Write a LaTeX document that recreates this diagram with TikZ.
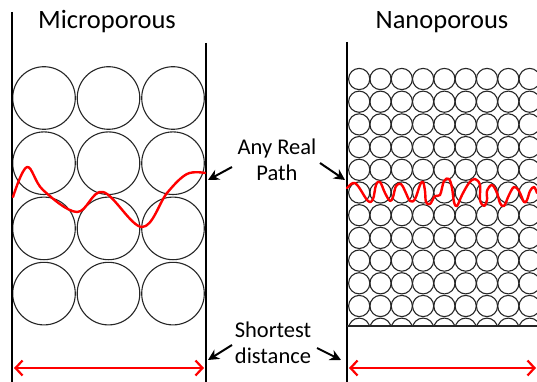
\documentclass[tikz,border=0pt]{standalone}
\usepackage{fontspec}
\setmainfont{Carlito}
\usetikzlibrary{arrows.meta}

\begin{document}
\begin{tikzpicture}[
    x=1pt, y=-1pt,
    % Style for the walls of each slab
    wallStyle/.style={
        draw=black,
        line width=1.4pt
    },
    % Style for the packed grains
    grainStyle/.style={
        draw=black!85,
        line width=1.1pt
    },
    % Style for the titles above the slabs
    titleLabel/.style={
        font=\fontsize{26.5}{30}\selectfont,
        anchor=base
    },
    % Style for the labels between the slabs
    midLabel/.style={
        font=\fontsize{22.5}{26.5}\selectfont,
        align=center
    },
    % Style for the black pointers
    ptrStyle/.style={
        draw=black,
        line width=2pt,
        -{Stealth[length=11pt,width=11pt]}
    },
    % Style for the red paths and distances
    pathStyle/.style={
        draw=red,
        line width=2.4pt,
        line cap=round,
        line join=round
    },
    distStyle/.style={
        draw=red,
        line width=2.2pt,
        {Straight Barb[length=7pt,width=15pt]}-{Straight Barb[length=7pt,width=15pt]}
    }
]

    \useasboundingbox (0,0) rectangle (537,382);

    % --- COORDINATES ---
    \def\bigR{31.3}   % grain radius, microporous
    \def\smallR{10.6} % grain radius, nanoporous

    % --- LEFT SLAB (Microporous) ---
    \foreach \col in {0,1,2} {
        \foreach \row in {0,1,2,3} {
            \draw[grainStyle] (44+64.5*\col, 98+65.2*\row) circle (\bigR pt);
        }
    }
    \draw[wallStyle] (12,12) -- (12,382);
    \draw[wallStyle] (206,43) -- (206,382);
    \node[titleLabel] (tMicro) at (107,29) {Microporous};

    % --- RIGHT SLAB (Nanoporous) ---
    \begin{scope}
        \clip (347,40) rectangle (537,326);
        \foreach \col in {0,...,8} {
            \foreach \row in {0,...,11} {
                \draw[grainStyle] (359.2+21.3*\col, 79+22.7*\row) circle (\smallR pt);
            }
        }
    \end{scope}
    \draw[wallStyle] (347,42) -- (347,382);
    \draw[grainStyle] (347,326) -- (537,326);
    \node[titleLabel] (tNano) at (442,29) {Nanoporous};

    % --- REAL PATHS ---
    \draw[pathStyle] plot[smooth, tension=0.6] coordinates {
        (13,197) (27,167) (43,190) (77,212) (103,192) (142,227)
        (167,193) (187,174) (205,173)};
    \draw[pathStyle] plot[smooth, tension=0.6] coordinates {
        (347,188) (353,183) (358,186) (368,201) (373,199) (376,185)
        (380,182) (385,193) (390,201) (393,197) (396,186) (401,184)
        (405,191) (410,201) (415,199) (420,185) (423,182) (425,191)
        (426,202) (430,204) (435,196) (440,195) (444,181) (449,179)
        (452,188) (454,202) (457,206) (462,195) (469,183) (475,179)
        (480,185) (480,200) (484,206) (487,200) (487,191) (492,185)
        (497,193) (500,203) (504,206) (509,195) (514,187) (519,191)
        (524,202) (527,200) (530,191) (534,187) (537,193)};

    % --- LABELS ---
    \node[midLabel] (lPath) at (277,160) {Any Real\\Path};
    \node[midLabel] (lDist) at (273,343) {Shortest\\distance};

    % --- POINTERS ---
    \coordinate (pathL0) at (232,167);
    \coordinate (pathL1) at (208,180);
    \coordinate (pathR0) at (320,163);
    \coordinate (pathR1) at (345,180);
    \coordinate (distL0) at (232,345);
    \coordinate (distL1) at (208,360);
    \coordinate (distR0) at (317,348);
    \coordinate (distR1) at (341,360);
    \draw[ptrStyle] (pathL0) -- (pathL1);
    \draw[ptrStyle] (pathR0) -- (pathR1);
    \draw[ptrStyle] (distL0) -- (distL1);
    \draw[ptrStyle] (distR0) -- (distR1);

    % --- DISTANCES ---
    \coordinate (dMicroA) at (14,368);
    \coordinate (dMicroB) at (204,368);
    \coordinate (dNanoA) at (349,368);
    \coordinate (dNanoB) at (536,368);
    \draw[distStyle] (dMicroA) -- (dMicroB);
    \draw[distStyle] (dNanoA) -- (dNanoB);

\end{tikzpicture}
\end{document}
